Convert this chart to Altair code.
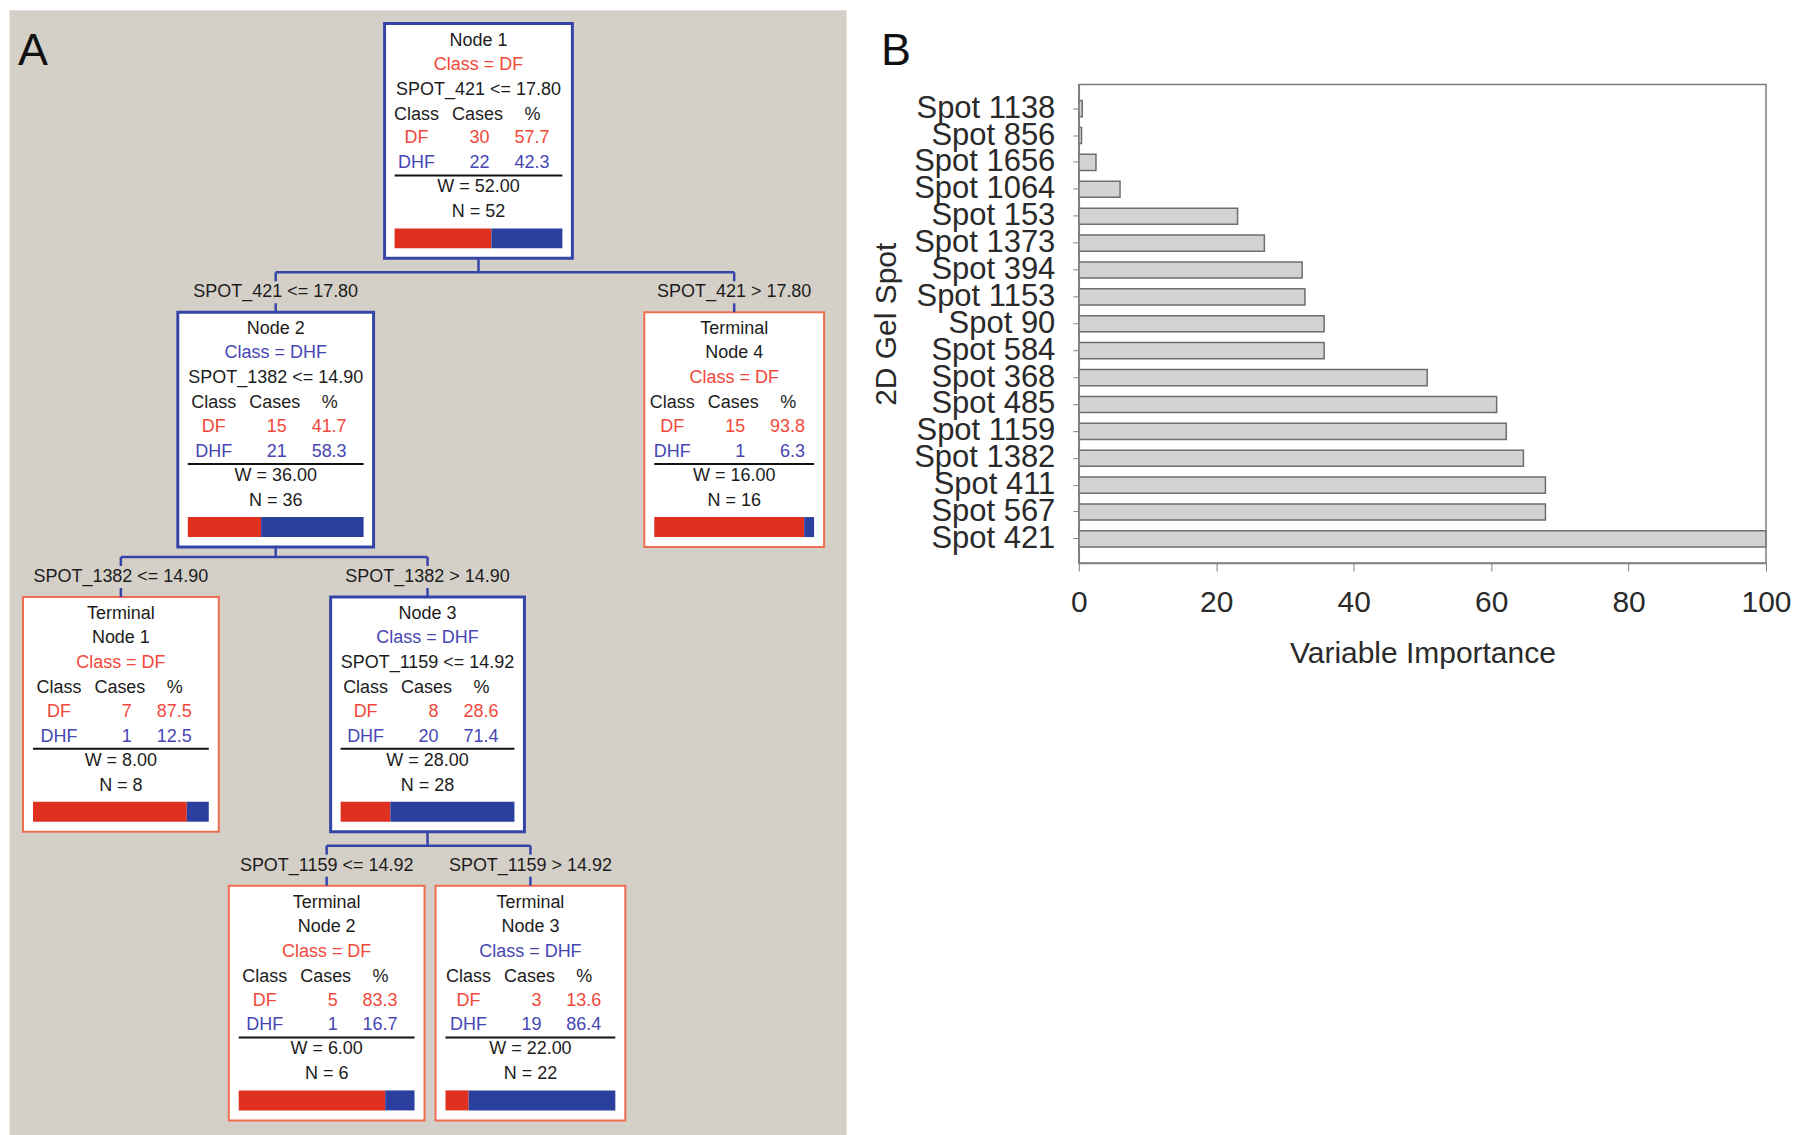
import altair as alt
import pandas as pd

# ---------------- Panel A: classification tree (values) ----------------
node_label = [["Node 1"], ["Node 2"], ["Terminal", "Node 4"], ["Terminal", "Node 1"],
              ["Node 3"], ["Terminal", "Node 2"], ["Terminal", "Node 3"]]
node_class = ["DF", "DHF", "DF", "DF", "DHF", "DF", "DHF"]
node_rule = ["SPOT_421 <= 17.80", "SPOT_1382 <= 14.90", None, None,
             "SPOT_1159 <= 14.92", None, None]
df_cases = [30, 15, 15, 7, 8, 5, 3]
df_pct = [57.7, 41.7, 93.8, 87.5, 28.6, 83.3, 13.6]
dhf_cases = [22, 21, 1, 1, 20, 1, 19]
dhf_pct = [42.3, 58.3, 6.3, 12.5, 71.4, 16.7, 86.4]
node_weight = [52.00, 36.00, 16.00, 8.00, 28.00, 6.00, 22.00]
node_n = [52, 36, 16, 8, 28, 6, 22]
edge_parent = [0, 0, 1, 1, 4, 4]
edge_child = [1, 2, 3, 4, 5, 6]
edge_label = ["SPOT_421 <= 17.80", "SPOT_421 >  17.80",
              "SPOT_1382 <= 14.90", "SPOT_1382 >  14.90",
              "SPOT_1159 <= 14.92", "SPOT_1159 >  14.92"]

# ---------------- Panel B: variable importance (values) ----------------
spots = ["Spot 1138", "Spot 856", "Spot 1656", "Spot 1064", "Spot 153", "Spot 1373",
         "Spot 394", "Spot 1153", "Spot 90", "Spot 584", "Spot 368", "Spot 485",
         "Spot 1159", "Spot 1382", "Spot 411", "Spot 567", "Spot 421"]
importance = [0.5, 0.4, 2.5, 6.0, 23.1, 27.0, 32.5, 32.9, 35.7, 35.7, 50.7, 60.8,
              62.2, 64.7, 67.9, 67.9, 100.0]
x_ticks = [0, 20, 40, 60, 80, 100]

# ---------------- layout of the tree diagram (page pixels) ----------------
node_cx = [478, 275, 734, 120, 427, 326, 530]
node_top = [22, 311, 311, 596, 596, 885, 885]
node_width = [188, 196, 180, 196, 194, 196, 190]
BOX_H = 235
ROW_Y = [17, 41, 66, 91, 115, 140]
LINE_Y = 152
W_Y = 164
N_Y = 189
BAR_Y = (205, 225)
INSET = 10

FONT = "Liberation Sans"
RED_TXT = "#f2483a"
BLUE_TXT = "#4646b4"
DARK = "#1c1c1c"
RED_BAR = "#e0301f"
BLUE_BAR = "#2b3f9f"
BLUE_LINE = "#3644a8"
TERM_LINE = "#ef6c4f"
GRAY_BG = "#d4d0c8"

boxes, texts_c, texts_r, rules, pbars = [], [], [], [], []
for i in range(len(node_n)):
    cx, top, w = node_cx[i], node_top[i], node_width[i]
    terminal = node_rule[i] is None
    boxes.append(dict(x=cx - w / 2, x2=cx + w / 2, y=top, y2=top + BOX_H,
                      s=TERM_LINE if terminal else BLUE_LINE, sw=2 if terminal else 3))
    cls_col = RED_TXT if node_class[i] == "DF" else BLUE_TXT
    head = node_label[i] + [f"Class = {node_class[i]}"] + ([] if terminal else [node_rule[i]])
    head_cols = [DARK] * len(node_label[i]) + [cls_col] + ([] if terminal else [DARK])
    for r, (t, c) in enumerate(zip(head, head_cols)):
        texts_c.append(dict(x=cx, y=top + ROW_Y[r], t=t, c=c))
    texts_c += [dict(x=cx - 62, y=top + ROW_Y[3], t="Class", c=DARK),
                dict(x=cx - 1, y=top + ROW_Y[3], t="Cases", c=DARK),
                dict(x=cx + 54, y=top + ROW_Y[3], t="%", c=DARK)]
    texts_c.append(dict(x=cx - 62, y=top + ROW_Y[4], t="DF", c=RED_TXT))
    texts_r.append(dict(x=cx + 11, y=top + ROW_Y[4], t=str(df_cases[i]), c=RED_TXT))
    texts_r.append(dict(x=cx + 71, y=top + ROW_Y[4], t=f"{df_pct[i]:.1f}", c=RED_TXT))
    texts_c.append(dict(x=cx - 62, y=top + ROW_Y[5], t="DHF", c=BLUE_TXT))
    texts_r.append(dict(x=cx + 11, y=top + ROW_Y[5], t=str(dhf_cases[i]), c=BLUE_TXT))
    texts_r.append(dict(x=cx + 71, y=top + ROW_Y[5], t=f"{dhf_pct[i]:.1f}", c=BLUE_TXT))
    x0, x1 = cx - w / 2 + INSET, cx + w / 2 - INSET
    rules.append(dict(x=x0, x2=x1, y=top + LINE_Y, y2=top + LINE_Y, c="#111111", sw=2))
    texts_c.append(dict(x=cx, y=top + W_Y, t=f"W = {node_weight[i]:.2f}", c=DARK))
    texts_c.append(dict(x=cx, y=top + N_Y, t=f"N = {node_n[i]}", c=DARK))
    xm = x0 + (x1 - x0) * df_pct[i] / 100.0
    pbars.append(dict(x=x0, x2=xm, y=top + BAR_Y[0], y2=top + BAR_Y[1], c=RED_BAR))
    pbars.append(dict(x=xm, x2=x1, y=top + BAR_Y[0], y2=top + BAR_Y[1], c=BLUE_BAR))

# connectors and split labels
for p in sorted(set(edge_parent)):
    kids = [edge_child[k] for k in range(len(edge_child)) if edge_parent[k] == p]
    hy = node_top[kids[0]] - 40
    pcx = node_cx[p]
    rules.append(dict(x=pcx, x2=pcx, y=node_top[p] + BOX_H, y2=hy, c=BLUE_LINE, sw=2.5))
    rules.append(dict(x=min(node_cx[k] for k in kids), x2=max(node_cx[k] for k in kids),
                      y=hy, y2=hy, c=BLUE_LINE, sw=2.5))
for k in range(len(edge_child)):
    ch = edge_child[k]
    ccx, ctop = node_cx[ch], node_top[ch]
    ly = ctop - 20
    rules.append(dict(x=ccx, x2=ccx, y=ctop - 40, y2=ly - 11, c=BLUE_LINE, sw=2.5))
    rules.append(dict(x=ccx, x2=ccx, y=ly + 11, y2=ctop, c=BLUE_LINE, sw=2.5))
    texts_c.append(dict(x=ccx, y=ly, t=edge_label[k], c=DARK))

xs = alt.Scale(domain=[8, 846], nice=False, zero=False)
ys = alt.Scale(domain=[8, 1135], nice=False, zero=False, reverse=True)


def pos(ch):
    return ch.encode(
        x=alt.X("x:Q", scale=xs, axis=None),
        y=alt.Y("y:Q", scale=ys, axis=None),
    )


box_layer = pos(alt.Chart(pd.DataFrame(boxes)).mark_rect(fill="white")).encode(
    x2="x2:Q", y2="y2:Q",
    stroke=alt.Stroke("s:N", scale=None),
    strokeWidth=alt.StrokeWidth("sw:Q", scale=None),
)
bar_layer = pos(alt.Chart(pd.DataFrame(pbars)).mark_rect()).encode(
    x2="x2:Q", y2="y2:Q", color=alt.Color("c:N", scale=None))
rule_layer = pos(alt.Chart(pd.DataFrame(rules)).mark_rule()).encode(
    x2="x2:Q", y2="y2:Q",
    color=alt.Color("c:N", scale=None),
    strokeWidth=alt.StrokeWidth("sw:Q", scale=None),
)
txt_c_layer = pos(alt.Chart(pd.DataFrame(texts_c)).mark_text(
    align="center", baseline="middle", font=FONT, fontSize=18)).encode(
    text="t:N", color=alt.Color("c:N", scale=None))
txt_r_layer = pos(alt.Chart(pd.DataFrame(texts_r)).mark_text(
    align="right", baseline="middle", font=FONT, fontSize=18)).encode(
    text="t:N", color=alt.Color("c:N", scale=None))
a_label = alt.Chart(pd.DataFrame({"t": ["A"]})).mark_text(
    align="left", baseline="alphabetic", font=FONT, fontSize=45, color="#111111").encode(
    text="t:N", x=alt.value(9), y=alt.value(55))

panel_a = alt.layer(box_layer, bar_layer, rule_layer, txt_c_layer, txt_r_layer, a_label).properties(
    width=838, height=1127,
    view=alt.ViewBackground(fill=GRAY_BG, stroke="transparent"),
)

# ---------------- Panel B ----------------
# view spans page y 8..562; the plot frame occupies view y 75..554
B_TOP, B_BOTTOM, B_W = 75, 554, 688
dfb = pd.DataFrame({"spot": spots, "importance": importance})
AX_GRAY = "#7f7f7f"
TXT = "#2a2a2a"
bars_b = alt.Chart(dfb).mark_bar(fill="#d3d3d3", stroke="#6e6e6e", strokeWidth=1.5).encode(
    x=alt.X("importance:Q",
            scale=alt.Scale(domain=[0, 100], nice=False),
            axis=alt.Axis(values=x_ticks, title="Variable Importance", grid=False,
                          tickSize=8, labelPadding=17, labelFlush=False, labelOverlap=False,
                          labelFont=FONT, labelFontSize=30, labelColor=TXT,
                          titleFont=FONT, titleFontSize=30, titleFontWeight="normal",
                          titleColor=TXT, titleBaseline="middle", titleY=91,
                          domainColor=AX_GRAY, tickColor=AX_GRAY, domainWidth=1.5)),
    y=alt.Y("spot:N", sort=spots,
            scale=alt.Scale(range=[B_TOP, B_BOTTOM], paddingInner=0.4, paddingOuter=0.595),
            axis=alt.Axis(title="2D Gel Spot", grid=False, tickSize=6, labelPadding=18,
                          labelOverlap=False, labelBaseline="middle",
                          labelFont=FONT, labelFontSize=31, labelColor=TXT,
                          titleFont=FONT, titleFontSize=30, titleFontWeight="normal",
                          titleColor=TXT, titleBaseline="middle", titleAlign="center",
                          titleX=-193, titleY=(B_TOP + B_BOTTOM) / 2, titleAngle=270,
                          domainColor=AX_GRAY, tickColor=AX_GRAY, domainWidth=1.5)),
)
frame = alt.Chart(pd.DataFrame({"t": [0]})).mark_rect(
    filled=False, stroke=AX_GRAY, strokeWidth=1.5).encode(
    x=alt.value(0), x2=alt.value(B_W), y=alt.value(B_TOP), y2=alt.value(B_BOTTOM))
b_label = alt.Chart(pd.DataFrame({"t": ["B"]})).mark_text(
    align="left", baseline="alphabetic", font=FONT, fontSize=45, color="#111111").encode(
    text="t:N", x=alt.value(-198), y=alt.value(55))
anchor = alt.Chart(pd.DataFrame({"t": [0]})).mark_rect(fill="white").encode(
    x=alt.value(-231), x2=alt.value(-230), y=alt.value(0), y2=alt.value(1))

panel_b = alt.layer(anchor, b_label, bars_b, frame).properties(
    width=B_W, height=B_BOTTOM,
    view=alt.ViewBackground(fill="white", stroke="transparent"),
)

chart = alt.hconcat(panel_a, panel_b, spacing=0).properties(padding=0)
chart.save("out.html", embed_options={"renderer": "svg", "actions": False})
